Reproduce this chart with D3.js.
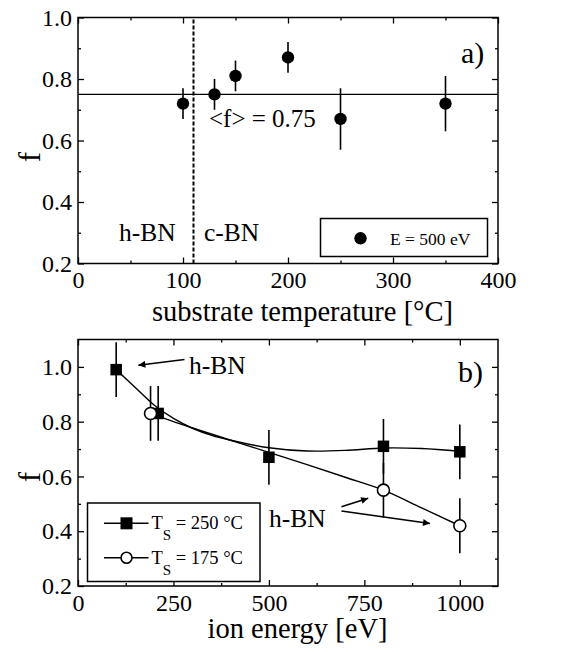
<!DOCTYPE html>
<html>
<head>
<meta charset="utf-8">
<script src="https://cdn.jsdelivr.net/npm/d3@7"></script>
<style>
  html, body { margin: 0; padding: 0; background: #fff; }
  svg { display: block; }
  text { font-family: "Liberation Serif", "Times New Roman", serif; fill: #000; }
</style>
</head>
<body>
<svg id="chart" width="564" height="652"></svg>
<script>
// ---------- data: panel a ----------
const tempC = [100, 130, 150, 200, 250, 350];
const fTemp = [0.72, 0.75, 0.81, 0.87, 0.67, 0.72];
const errTemp = [0.05, 0.05, 0.05, 0.05, 0.10, 0.09];
const meanF = 0.75;
const boundaryTemp = 110;
const xTicksA = [0, 100, 200, 300, 400];
const xMinorA = [50, 150, 250, 350];
const yTicksA = [0.2, 0.4, 0.6, 0.8, 1.0];
const yMinorA = [0.3, 0.5, 0.7, 0.9];

// ---------- data: panel b ----------
const energy250 = [100, 210, 500, 800, 1000];
const f250 = [0.99, 0.83, 0.67, 0.71, 0.69];
const err250 = [0.10, 0.10, 0.10, 0.10, 0.10];
const energy175 = [190, 800, 1000];
const f175 = [0.83, 0.55, 0.42];
const err175 = [0.10, 0.10, 0.10];
// guide-to-the-eye curves
const fitE250 = [100, 150, 200, 250, 300, 350, 400, 500, 600, 700, 800, 900, 1000];
const fitF250 = [0.99, 0.925, 0.86, 0.812, 0.776, 0.75, 0.732, 0.705, 0.693, 0.695, 0.704, 0.702, 0.692];
const fitE175 = [190, 250, 300, 400, 500, 600, 700, 800, 900, 1000];
const fitF175 = [0.83, 0.80, 0.777, 0.732, 0.688, 0.643, 0.597, 0.55, 0.485, 0.42];
const xTicksB = [0, 250, 500, 750, 1000];
const xMinorB = [125, 375, 625, 875];
const yTicksB = [0.2, 0.4, 0.6, 0.8, 1.0];
const yMinorB = [0.3, 0.5, 0.7, 0.9];

const svg = d3.select("#chart");
const L = 78, R = 498;

function frame(g, x, y, xMaj, xMin, yMaj, yMin, xFmt, labPadX) {
  const [x0, x1] = x.range();
  const [y0, y1] = y.range(); // y0 bottom, y1 top
  // bottom axis with labels
  g.append("g").attr("transform", `translate(0,${y0})`)
    .call(d3.axisBottom(x).tickValues(xMaj).tickSizeInner(-6).tickSizeOuter(0).tickPadding(labPadX).tickFormat(xFmt))
    .call(a => { a.select(".domain").remove(); a.selectAll("text").attr("font-size", 24).style("font-family", "Liberation Serif"); a.selectAll("line").attr("stroke-width", 1.3); });
  g.append("g").attr("transform", `translate(0,${y0})`)
    .call(d3.axisBottom(x).tickValues(xMin).tickSizeInner(-3).tickSizeOuter(0).tickFormat(""))
    .call(a => { a.select(".domain").remove(); a.selectAll("line").attr("stroke-width", 1.3); });
  // top axis
  g.append("g").attr("transform", `translate(0,${y1})`)
    .call(d3.axisTop(x).tickValues(xMaj).tickSizeInner(-6).tickSizeOuter(0).tickFormat(""))
    .call(a => { a.select(".domain").remove(); a.selectAll("line").attr("stroke-width", 1.3); });
  g.append("g").attr("transform", `translate(0,${y1})`)
    .call(d3.axisTop(x).tickValues(xMin).tickSizeInner(-3).tickSizeOuter(0).tickFormat(""))
    .call(a => { a.select(".domain").remove(); a.selectAll("line").attr("stroke-width", 1.3); });
  // left axis with labels
  g.append("g").attr("transform", `translate(${x0},0)`)
    .call(d3.axisLeft(y).tickValues(yMaj).tickSizeInner(-6).tickSizeOuter(0).tickPadding(6).tickFormat(d3.format(".1f")))
    .call(a => { a.select(".domain").remove(); a.selectAll("text").attr("font-size", 24).style("font-family", "Liberation Serif"); a.selectAll("line").attr("stroke-width", 1.3); });
  g.append("g").attr("transform", `translate(${x0},0)`)
    .call(d3.axisLeft(y).tickValues(yMin).tickSizeInner(-3).tickSizeOuter(0).tickFormat(""))
    .call(a => { a.select(".domain").remove(); a.selectAll("line").attr("stroke-width", 1.3); });
  // right axis
  g.append("g").attr("transform", `translate(${x1},0)`)
    .call(d3.axisRight(y).tickValues(yMaj).tickSizeInner(-6).tickSizeOuter(0).tickFormat(""))
    .call(a => { a.select(".domain").remove(); a.selectAll("line").attr("stroke-width", 1.3); });
  g.append("g").attr("transform", `translate(${x1},0)`)
    .call(d3.axisRight(y).tickValues(yMin).tickSizeInner(-3).tickSizeOuter(0).tickFormat(""))
    .call(a => { a.select(".domain").remove(); a.selectAll("line").attr("stroke-width", 1.3); });
  g.append("rect").attr("x", x0).attr("y", y1).attr("width", x1 - x0).attr("height", y0 - y1)
    .attr("fill", "none").attr("stroke", "#000").attr("stroke-width", 1.5);
}

svg.append("defs").append("marker")
  .attr("id", "arrow").attr("viewBox", "0 0 10 10").attr("refX", 10).attr("refY", 5)
  .attr("markerWidth", 11).attr("markerHeight", 7).attr("markerUnits", "userSpaceOnUse")
  .attr("orient", "auto")
  .append("path").attr("d", "M0,0 L10,5 L0,10 Z").attr("fill", "#000");

// ================= Panel a =================
const xA = d3.scaleLinear().domain([0, 400]).range([L, R]);
const yA = d3.scaleLinear().domain([0.2, 1.0]).range([263.5, 17.5]);
const gA = svg.append("g");

// mean line
gA.append("line").attr("x1", xA(0)).attr("x2", xA(400)).attr("y1", yA(meanF)).attr("y2", yA(meanF))
  .attr("stroke", "#000").attr("stroke-width", 1.4);
// boundary dashed line
gA.append("line").attr("x1", xA(boundaryTemp)).attr("x2", xA(boundaryTemp)).attr("y1", yA(0.2)).attr("y2", yA(1.0))
  .attr("stroke", "#000").attr("stroke-width", 2).attr("stroke-dasharray", "4,2");

frame(gA, xA, yA, xTicksA, xMinorA, yTicksA, yMinorA, d3.format("d"), 7.5);

const ptsA = tempC.map((t, i) => ({ t, f: fTemp[i], e: errTemp[i] }));
gA.selectAll(".ebA").data(ptsA).join("line")
  .attr("x1", d => xA(d.t)).attr("x2", d => xA(d.t))
  .attr("y1", d => yA(d.f - d.e)).attr("y2", d => yA(d.f + d.e))
  .attr("stroke", "#000").attr("stroke-width", 1.6);
gA.selectAll(".ptA").data(ptsA).join("circle")
  .attr("cx", d => xA(d.t)).attr("cy", d => yA(d.f)).attr("r", 6.2).attr("fill", "#000");

gA.append("text").attr("x", 209).attr("y", 127).attr("font-size", 25).text("<f> = 0.75");
gA.append("text").attr("x", 119).attr("y", 241).attr("font-size", 25.5).text("h-BN");
gA.append("text").attr("x", 204).attr("y", 241).attr("font-size", 25.5).text("c-BN");
gA.append("text").attr("x", 461).attr("y", 63).attr("font-size", 30).text("a)");

// legend a
gA.append("rect").attr("x", 320.5).attr("y", 218.5).attr("width", 167).attr("height", 38)
  .attr("fill", "#fff").attr("stroke", "#000").attr("stroke-width", 1.5);
gA.append("circle").attr("cx", 360.5).attr("cy", 238.3).attr("r", 6.2).attr("fill", "#000");
gA.append("text").attr("x", 390).attr("y", 244.5).attr("font-size", 17.5).text("E = 500 eV");

// axis titles a
gA.append("text").attr("x", 302.5).attr("y", 321).attr("text-anchor", "middle").attr("font-size", 28.5)
  .text("substrate temperature [°C]");
gA.append("text").attr("transform", "translate(40,157) rotate(-90)").attr("text-anchor", "middle")
  .attr("font-size", 31).text("f");

// ================= Panel b =================
const xB = d3.scaleLinear().domain([0, 1100]).range([L, R]);
const yB = d3.scaleLinear().domain([0.2, 1.1]).range([586, 339.5]);
const gB = svg.append("g");

frame(gB, xB, yB, xTicksB, xMinorB, yTicksB, yMinorB, d3.format("d"), 7.5);

const line = d3.line().x(d => xB(d[0])).y(d => yB(d[1])).curve(d3.curveCatmullRom.alpha(0.5));
gB.append("path").attr("d", line(fitE250.map((e, i) => [e, fitF250[i]])))
  .attr("fill", "none").attr("stroke", "#000").attr("stroke-width", 1.4);
gB.append("path").attr("d", line(fitE175.map((e, i) => [e, fitF175[i]])))
  .attr("fill", "none").attr("stroke", "#000").attr("stroke-width", 1.4);

const pts250 = energy250.map((e, i) => ({ e, f: f250[i], err: err250[i] }));
const pts175 = energy175.map((e, i) => ({ e, f: f175[i], err: err175[i] }));
gB.selectAll(".eb250").data(pts250).join("line")
  .attr("x1", d => xB(d.e)).attr("x2", d => xB(d.e))
  .attr("y1", d => yB(d.f - d.err)).attr("y2", d => yB(d.f + d.err))
  .attr("stroke", "#000").attr("stroke-width", 1.6);
gB.selectAll(".eb175").data(pts175).join("line")
  .attr("x1", d => xB(d.e)).attr("x2", d => xB(d.e))
  .attr("y1", d => yB(d.f - d.err)).attr("y2", d => yB(d.f + d.err))
  .attr("stroke", "#000").attr("stroke-width", 1.6);
const sq = 11.5;
gB.selectAll(".sq").data(pts250).join("rect")
  .attr("x", d => xB(d.e) - sq / 2).attr("y", d => yB(d.f) - sq / 2)
  .attr("width", sq).attr("height", sq).attr("fill", "#000");
gB.selectAll(".ci").data(pts175).join("circle")
  .attr("cx", d => xB(d.e)).attr("cy", d => yB(d.f)).attr("r", 6)
  .attr("fill", "#fff").attr("stroke", "#000").attr("stroke-width", 1.6);

// annotations b
gB.append("text").attr("x", 189).attr("y", 374).attr("font-size", 25.5).text("h-BN");
gB.append("text").attr("x", 269).attr("y", 526.5).attr("font-size", 25.5).text("h-BN");
gB.append("text").attr("x", 458).attr("y", 381.5).attr("font-size", 30).text("b)");
const arrows = [
  [[279, 1.027], [158, 1.006]],
  [[690, 0.489], [760, 0.52]],
  [[690, 0.474], [922, 0.428]]
];
arrows.forEach(a => {
  gB.append("line").attr("x1", xB(a[0][0])).attr("y1", yB(a[0][1]))
    .attr("x2", xB(a[1][0])).attr("y2", yB(a[1][1]))
    .attr("stroke", "#000").attr("stroke-width", 1.6).attr("marker-end", "url(#arrow)");
});

// legend b
gB.append("rect").attr("x", 87.5).attr("y", 503).attr("width", 172.5).attr("height", 78.5)
  .attr("fill", "#fff").attr("stroke", "#000").attr("stroke-width", 1.5);
const legB = [
  { y: 523.3, lab: "250 °C", type: "sq" },
  { y: 557.7, lab: "175 °C", type: "ci" }
];
legB.forEach(d => {
  gB.append("line").attr("x1", 104).attr("x2", 148.5).attr("y1", d.y).attr("y2", d.y)
    .attr("stroke", "#000").attr("stroke-width", 1.4);
  if (d.type === "sq") {
    gB.append("rect").attr("x", 126.5 - 6).attr("y", d.y - 6).attr("width", 12).attr("height", 12).attr("fill", "#000");
  } else {
    gB.append("circle").attr("cx", 126.5).attr("cy", d.y).attr("r", 5.5)
      .attr("fill", "#fff").attr("stroke", "#000").attr("stroke-width", 1.6);
  }
  const t = gB.append("text").attr("x", 151.5).attr("y", d.y + 6).attr("font-size", 18.5);
  t.append("tspan").text("T");
  t.append("tspan").attr("dy", 11).attr("font-size", 15).text("S");
  t.append("tspan").attr("dy", -11).text(" = " + d.lab);
});

// axis titles b
gB.append("text").attr("x", 297.5).attr("y", 638).attr("text-anchor", "middle").attr("font-size", 28.5)
  .text("ion energy [eV]");
gB.append("text").attr("transform", "translate(40,477) rotate(-90)").attr("text-anchor", "middle")
  .attr("font-size", 31).text("f");
</script>
</body>
</html>
